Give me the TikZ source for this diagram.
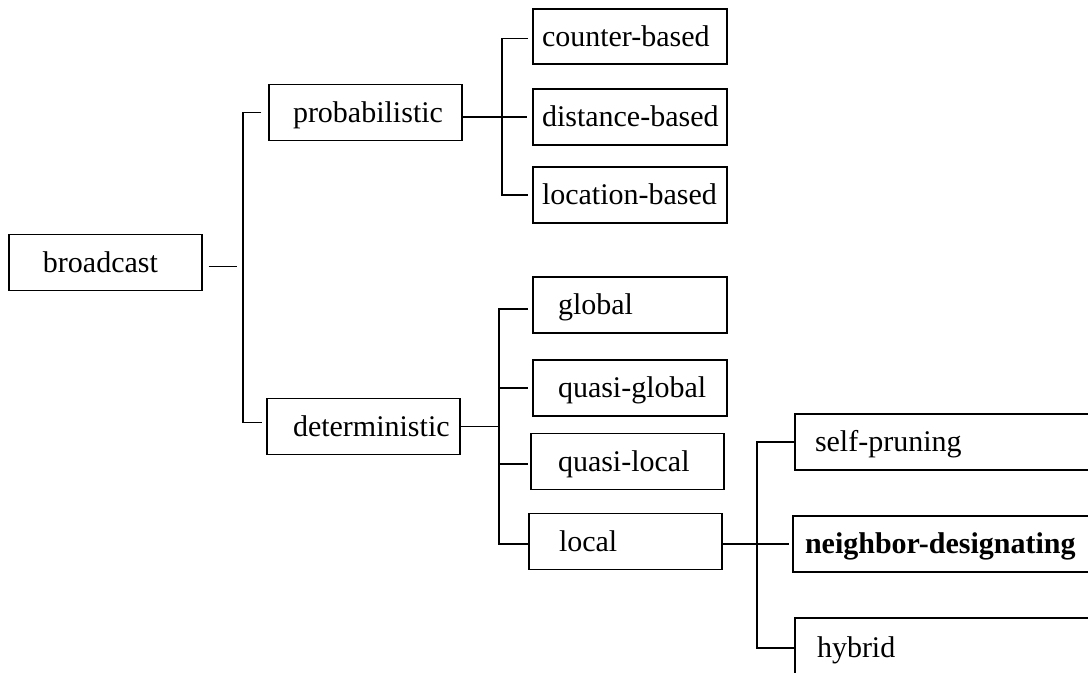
\documentclass[tikz,border=0pt]{standalone}
\usepackage{fontspec}
\setmainfont{Liberation Serif}
\usetikzlibrary{calc}
\tikzset{
  box/.style={draw, line width=0.65pt, inner xsep=0pt, inner ysep=0pt, align=left,
    font=\fontsize{15pt}{18pt}\selectfont, text height=10.8pt, text depth=1.2pt,
    minimum height=28pt},
  wire/.style={line width=0.65pt},
}
\begin{document}
\begin{tikzpicture}[x=0.5pt,y=-0.5pt]
\useasboundingbox (0,0) rectangle (1088,673);
\fill[white] (0,0) rectangle (1088,673);
\clip (0,0) rectangle (1088,673);

\node[box, text width=96.5pt] (broadcast) at (105.5,262.5) {\hspace*{17pt}broadcast};
\node[box, text width=96.5pt] (probabilistic) at (365.5,112.5) {\hspace*{12pt}probabilistic};
\node[box, text width=96.5pt] (deterministic) at (363.5,426.5) {\hspace*{13pt}deterministic};

\node[box, text width=97pt, minimum height=27.5pt] (counter) at (630,36.5) {\hspace*{4.5pt}counter-based};
\node[box, text width=97pt] (distance) at (630,117) {\hspace*{4.5pt}distance-based};
\node[box, text width=97pt] (location) at (630,195) {\hspace*{4.5pt}location-based};

\node[box, text width=97pt] (global) at (630,305) {\hspace*{12.5pt}global};
\node[box, text width=97pt] (quasiglobal) at (630,388) {\hspace*{12.5pt}quasi-global};
\node[box, text width=96.5pt] (quasilocal) at (627.5,461.5) {\hspace*{13.5pt}quasi-local};
\node[box, text width=96.5pt] (local) at (625.5,541.5) {\hspace*{15pt}local};

\node[box, text width=160pt] (selfpruning) at (955,442) {\hspace*{10pt}self-pruning};
\node[box, text width=161pt, line width=1.3pt, font=\fontsize{15pt}{18pt}\selectfont\bfseries] (neighbor) at (954,544) {\hspace*{6pt}neighbor-designating};
\node[box, text width=160pt, minimum height=30pt] (hybrid) at (955,648) {\hspace*{11pt}hybrid};

\coordinate (J0) at (243,0);
\coordinate (J1) at (502,0);
\coordinate (J1e) at (528,0);
\coordinate (J2) at (499,0);
\coordinate (J2e) at (528,0);
\coordinate (J3) at (757,0);

% broadcast level
\draw[wire] ([shift={(3pt,-2pt)}]broadcast.east) -- ([shift={(-3pt,-2pt)}]J0 |- broadcast.east);
\draw[wire] ([xshift=-3.5pt]probabilistic.west) -- (J0 |- probabilistic.west)
  -- ([yshift=2pt]J0 |- deterministic.west) -- ([shift={(-2pt,2pt)}]deterministic.west);

% probabilistic children
\draw[wire] (probabilistic.east |- distance.west) -- ([xshift=-2.5pt]distance.west);
\draw[wire] ([yshift=-1pt]J1e |- counter.west) -- ([yshift=-1pt]J1 |- counter.west)
  -- (J1 |- location.west) -- (J1e |- location.west);

% deterministic children
\draw[wire] (deterministic.east) -- (J2 |- deterministic.east);
\draw[wire] ([yshift=-2pt]J2e |- global.west) -- ([yshift=-2pt]J2 |- global.west)
  -- ([yshift=-1.25pt]J2 |- local.west) -- ([yshift=-1.25pt]J2e |- local.west);
\draw[wire] (J2 |- quasiglobal.west) -- (J2e |- quasiglobal.west);
\draw[wire] ([yshift=-1.25pt]J2 |- quasilocal.west) -- ([yshift=-1.25pt]J2e |- quasilocal.west);

% local children
\draw[wire] (local.east |- neighbor.west) -- ([xshift=-1.5pt]neighbor.west);
\draw[wire] (selfpruning.west) -- (J3 |- selfpruning.west) -- (J3 |- hybrid.west) -- (hybrid.west);
\end{tikzpicture}
\end{document}
